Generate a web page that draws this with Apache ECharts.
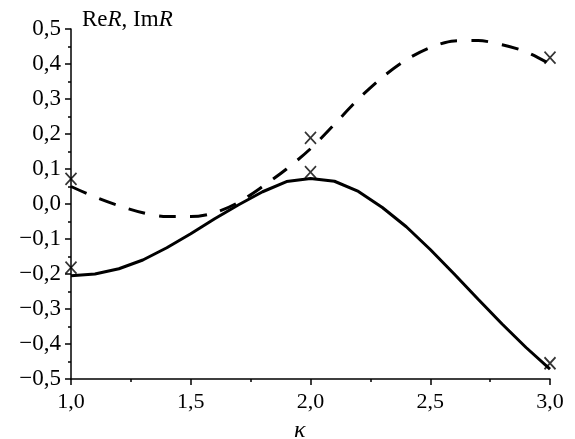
<!DOCTYPE html>
<html><head><meta charset="utf-8">
<script src="https://cdn.jsdelivr.net/npm/echarts@6/dist/echarts.min.js"></script>
<style>html,body{margin:0;padding:0;background:#fff}#c{width:575px;height:439px}</style>
</head><body><div id="c"></div>
<script>
const kappa = [1.0,1.1,1.2,1.3,1.4,1.5,1.6,1.7,1.8,1.9,2.0,2.1,2.2,2.3,2.4,2.5,2.6,2.7,2.8,2.9,3.0];
const solidVals = [-0.205,-0.200,-0.185,-0.160,-0.125,-0.085,-0.042,-0.002,0.035,0.064,0.073,0.065,0.036,-0.010,-0.065,-0.130,-0.200,-0.272,-0.343,-0.410,-0.472];
const dashedVals = [0.050,0.020,-0.005,-0.025,-0.036,-0.036,-0.025,0.005,0.050,0.100,0.158,0.228,0.300,0.362,0.412,0.447,0.466,0.467,0.455,0.435,0.400];
const markX = [1.0,1.0,2.0,2.0,3.0,3.0];
const markY = [0.072,-0.182,0.189,0.091,0.418,-0.455];
const xTicks = [1.0,1.5,2.0,2.5,3.0];
const yTicks = [-0.5,-0.4,-0.3,-0.2,-0.1,0.0,0.1,0.2,0.3,0.4,0.5];

const fmt = v => { const s = Math.abs(v).toFixed(1).replace('.', ','); return (v < -1e-9 ? '\u2212' : '') + s; };
const font = '"Liberation Serif", "DejaVu Serif", serif';
const chart = echarts.init(document.getElementById('c'), null, {renderer:'canvas'});
chart.setOption({
  animation:false,
  backgroundColor:'#fff',
  grid:{left:71,right:25,top:29,bottom:60},
  xAxis:{type:'value',min:xTicks[0],max:xTicks[xTicks.length-1],interval:0.5,
    axisLine:{onZero:false,lineStyle:{color:'#000',width:1.5}},
    axisTick:{length:6,lineStyle:{color:'#000',width:1.5}},
    minorTick:{show:true,splitNumber:2,length:3,lineStyle:{color:'#000',width:1.5}},
    splitLine:{show:false},
    axisLabel:{formatter:fmt,color:'#000',fontFamily:font,fontSize:22,margin:12}},
  yAxis:{type:'value',min:yTicks[0],max:yTicks[yTicks.length-1],interval:0.1,
    axisLine:{show:true,onZero:false,lineStyle:{color:'#000',width:1.5}},
    axisTick:{show:true,length:6,lineStyle:{color:'#000',width:1.5}},
    minorTick:{show:true,splitNumber:2,length:3,lineStyle:{color:'#000',width:1.5}},
    splitLine:{show:false},
    axisLabel:{formatter:fmt,color:'#000',fontFamily:font,fontSize:23,margin:10}},
  series:[
    {type:'line',data:kappa.map((k,i)=>[k,solidVals[i]]),showSymbol:false,
     lineStyle:{color:'#000',width:3}},
    {type:'line',data:kappa.map((k,i)=>[k,dashedVals[i]]),showSymbol:false,smooth:0.3,
     lineStyle:{color:'#000',width:3,type:[17,14]}},
    {type:'scatter',data:markX.map((k,i)=>[k,markY[i]]),
     symbol:'path://M0,0L10,11M10,0L0,11',symbolSize:[11,12],
     itemStyle:{color:'none',borderColor:'#000',borderWidth:1.8}}
  ],
  graphic:[
    {type:'text',left:82,top:8,style:{rich:{n:{fontFamily:font,fontSize:23,fill:'#000'},i:{fontFamily:font,fontSize:23,fontStyle:'italic',fill:'#000'}},
      text:'{n|Re}{i|R}{n|, Im}{i|R}'}},
    {type:'text',left:294,top:419,style:{text:'κ',fontFamily:font,fontSize:24,fontStyle:'italic',fill:'#000'}}
  ]
});
</script></body></html>
